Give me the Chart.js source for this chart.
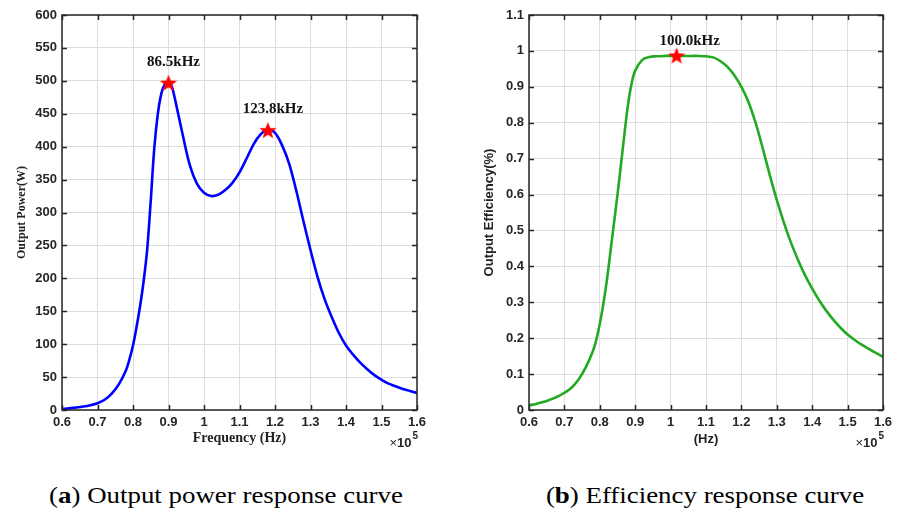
<!DOCTYPE html>
<html>
<head>
<meta charset="utf-8">
<script src="https://cdn.jsdelivr.net/npm/chart.js@4.4.1/dist/chart.umd.min.js"></script>
<style>
  body { margin: 0; background: #fff; width: 898px; height: 514px; position: relative; overflow: hidden; }
  .panel { position: absolute; top: 0; width: 449px; height: 460px; }
  .caption { position: absolute; top: 482px; font-family: 'Liberation Serif', serif; font-size: 24px; color: #000;
             white-space: nowrap; transform: translateX(-50%) scaleX(1.12); }
</style>
</head>
<body>
<div class="panel" style="left:0"><canvas id="powerChart" width="449" height="460"></canvas></div>
<div class="panel" style="left:449px"><canvas id="effChart" width="449" height="460"></canvas></div>
<div class="caption" style="left:226px">(<b>a</b>) Output power response curve</div>
<div class="caption" style="left:705px">(<b>b</b>) Efficiency response curve</div>
<script>
// frequency in units of 1e5 Hz
const powerFreq = [0.60, 0.62, 0.64, 0.66, 0.68, 0.70, 0.72, 0.74, 0.76, 0.78, 0.79, 0.80, 0.81, 0.82,
    0.83, 0.84, 0.85, 0.86, 0.87, 0.88, 0.89, 0.90, 0.91,
    0.92, 0.94, 0.96, 0.98, 1.00, 1.02, 1.04, 1.06, 1.08, 1.10, 1.12, 1.14, 1.16, 1.18, 1.20,
    1.22, 1.24, 1.26, 1.28, 1.30, 1.32, 1.34, 1.36, 1.38, 1.40, 1.42, 1.44, 1.46, 1.48, 1.50,
    1.52, 1.54, 1.56, 1.58, 1.60];
const powerW = [1.5, 2.5, 3.7, 5.2, 7.3, 10.3, 15.5, 25, 39, 60, 77, 98, 126, 158,
    196, 244, 318, 398, 450, 481, 495, 498, 490,
    468, 418, 372, 344, 330, 325, 327, 334, 345, 361, 382, 404, 419, 426, 421,
    402, 374, 333, 287, 243, 202, 168, 141, 117, 98, 84, 72, 62, 53, 46,
    40, 36, 32, 29, 26];

const effFreq = [0.60, 0.62, 0.64, 0.66, 0.68, 0.70, 0.72, 0.74, 0.76, 0.78, 0.79,
    0.80, 0.81, 0.82, 0.83, 0.84, 0.85, 0.86, 0.87, 0.88, 0.89, 0.90, 0.92, 0.94, 0.96, 0.98,
    1.00, 1.02, 1.04, 1.06, 1.08, 1.10, 1.12, 1.14, 1.16, 1.18,
    1.20, 1.22, 1.24, 1.26, 1.28, 1.30, 1.32, 1.34, 1.36, 1.38,
    1.40, 1.42, 1.44, 1.46, 1.48, 1.50, 1.52, 1.54, 1.56, 1.58, 1.60];
const effVal = [0.013, 0.017, 0.022, 0.029, 0.037, 0.048, 0.062, 0.085, 0.118, 0.163, 0.195,
    0.24, 0.295, 0.362, 0.44, 0.52, 0.60, 0.685, 0.772, 0.852, 0.91, 0.945, 0.975, 0.983, 0.985, 0.986,
    0.986, 0.986, 0.986, 0.986, 0.986, 0.985, 0.982, 0.972, 0.956, 0.932,
    0.90, 0.858, 0.80, 0.73, 0.655, 0.585, 0.522, 0.466, 0.418, 0.375,
    0.338, 0.305, 0.276, 0.251, 0.229, 0.21, 0.195, 0.182, 0.17, 0.159, 0.148];

// marked peaks
const powerPeakF = [0.90, 1.18];
const powerPeakW = [497, 425];
const powerPeakText = ['86.5kHz', '123.8kHz'];
const effPeakF = [1.017];
const effPeakVal = [0.987];
const effPeakText = ['100.0kHz'];

// tick values
const xTickVals = [0.6, 0.7, 0.8, 0.9, 1.0, 1.1, 1.2, 1.3, 1.4, 1.5, 1.6];
const powerTickVals = [0, 50, 100, 150, 200, 250, 300, 350, 400, 450, 500, 550, 600];
const effTickVals = [0, 0.1, 0.2, 0.3, 0.4, 0.5, 0.6, 0.7, 0.8, 0.9, 1.0, 1.1];

const axisColor = '#262626';
const gridColor = '#dedede';
const tickFont = { family: 'Liberation Sans', weight: 'bold', size: 13 };

function makeStar(r) {
    const c = document.createElement('canvas');
    c.width = c.height = Math.ceil(r * 2 + 2);
    const g = c.getContext('2d');
    const cx = c.width / 2, cy = c.height / 2 + 0.8;
    g.beginPath();
    for (let i = 0; i < 10; i++) {
        const rr = i % 2 ? r * 0.42 : r;
        const ang = -Math.PI / 2 + i * Math.PI / 5;
        g.lineTo(cx + rr * Math.cos(ang), cy + rr * Math.sin(ang));
    }
    g.closePath();
    g.fillStyle = '#ff0000';
    g.fill();
    return c;
}
const starImg = makeStar(9);

const fmt = v => String(+v.toFixed(2));

// box, inward ticks, peak labels and the x10^5 exponent (MATLAB look)
const matlabFrame = {
    id: 'matlabFrame',
    afterDraw(chart, args, opts) {
        const { ctx, chartArea: a, scales: { x, y } } = chart;
        ctx.save();
        ctx.strokeStyle = axisColor;
        ctx.lineWidth = 1.5;
        ctx.beginPath();
        x.ticks.forEach(t => {
            const px = Math.round(x.getPixelForValue(t.value)) + 0.5;
            ctx.moveTo(px, a.bottom); ctx.lineTo(px, a.bottom - 5);
            ctx.moveTo(px, a.top); ctx.lineTo(px, a.top + 5);
        });
        y.ticks.forEach(t => {
            const py = Math.round(y.getPixelForValue(t.value)) + 0.5;
            ctx.moveTo(a.left, py); ctx.lineTo(a.left + 5, py);
            ctx.moveTo(a.right, py); ctx.lineTo(a.right - 5, py);
        });
        ctx.stroke();
        ctx.strokeRect(a.left, a.top, a.right - a.left, a.bottom - a.top);

        // peak labels
        ctx.fillStyle = '#111';
        ctx.font = 'bold 15px "Liberation Serif"';
        ctx.textAlign = 'center';
        ctx.textBaseline = 'middle';
        opts.peakF.forEach((f, i) => {
            ctx.fillText(opts.peakText[i], x.getPixelForValue(f) + opts.dx,
                y.getPixelForValue(opts.peakV[i]) - opts.dy);
        });

        // x10^5
        ctx.fillStyle = axisColor;
        ctx.textAlign = 'right';
        ctx.textBaseline = 'alphabetic';
        ctx.font = 'bold 10px "Liberation Sans"';
        ctx.fillText('5', a.right + 1, 439);
        let xr = a.right + 1 - ctx.measureText('5').width - 1;
        ctx.font = 'bold 13px "Liberation Sans"';
        ctx.fillText('10', xr, 447);
        xr -= ctx.measureText('10').width;
        ctx.font = '13px "Liberation Sans"';
        ctx.fillText('\u00d7', xr, 447);
        ctx.restore();
    }
};

function makeChart(id, cfg) {
    return new Chart(document.getElementById(id), {
        type: 'line',
        data: {
            datasets: [{
                data: cfg.peakF.map((f, i) => ({ x: f, y: cfg.peakV[i] })),
                showLine: false,
                pointStyle: starImg,
                pointRadius: 9,
                order: 0
            }, {
                data: cfg.freq.map((f, i) => ({ x: f, y: cfg.vals[i] })),
                borderColor: cfg.color,
                borderWidth: 2.6,
                pointRadius: 0,
                tension: 0.35,
                fill: false,
                order: 1
            }]
        },
        options: {
            responsive: false,
            animation: false,
            devicePixelRatio: 1,
            layout: { padding: { top: 15, right: cfg.padRight, bottom: 0, left: 0 } },
            plugins: {
                legend: { display: false },
                tooltip: { enabled: false },
                matlabFrame: { peakF: cfg.peakF, peakV: cfg.peakV, peakText: cfg.peakText, dx: cfg.labelDx, dy: cfg.labelDy }
            },
            scales: {
                x: {
                    type: 'linear',
                    min: 0.6, max: 1.6,
                    afterBuildTicks: s => { s.ticks = xTickVals.map(v => ({ value: v })); },
                    afterFit: s => { s.height = 50; },
                    grid: { color: gridColor, lineWidth: 1, drawTicks: false },
                    border: { display: false },
                    ticks: { font: tickFont, color: axisColor, padding: 5, maxRotation: 0, autoSkip: false, callback: fmt },
                    title: { display: true, text: cfg.xTitle, font: cfg.xTitleFont, color: '#222', padding: { top: 0, bottom: 13 } }
                },
                y: {
                    min: cfg.yTicks[0], max: cfg.yTicks[cfg.yTicks.length - 1],
                    afterBuildTicks: s => { s.ticks = cfg.yTicks.map(v => ({ value: v })); },
                    afterFit: s => { s.width = cfg.yWidth; },
                    grid: { color: gridColor, lineWidth: 1, drawTicks: false },
                    border: { display: false },
                    ticks: { font: tickFont, color: axisColor, padding: 5, autoSkip: false, callback: fmt },
                    title: { display: true, text: cfg.yTitle, font: cfg.yTitleFont, color: '#222', padding: { top: cfg.yTitlePad, bottom: 0 } }
                }
            }
        },
        plugins: [matlabFrame]
    });
}

makeChart('powerChart', {
    freq: powerFreq, vals: powerW, color: '#0000ff',
    peakF: powerPeakF, peakV: powerPeakW, peakText: powerPeakText, labelDx: 5, labelDy: 21,
    yTicks: powerTickVals, yWidth: 62, padRight: 32,
    xTitle: 'Frequency (Hz)', xTitleFont: { family: 'Liberation Serif', weight: 'bold', size: 14 },
    yTitle: 'Output Power(W)', yTitleFont: { family: 'Liberation Serif', weight: 'bold', size: 12 }, yTitlePad: 15
});

makeChart('effChart', {
    freq: effFreq, vals: effVal, color: '#22aa22',
    peakF: effPeakF, peakV: effPeakVal, peakText: effPeakText, labelDx: 13, labelDy: 14,
    yTicks: effTickVals, yWidth: 80, padRight: 15,
    xTitle: '(Hz)', xTitleFont: { family: 'Liberation Sans', weight: 'bold', size: 13 },
    yTitle: 'Output Efficiency(%)', yTitleFont: { family: 'Liberation Sans', weight: 'bold', size: 13 }, yTitlePad: 33
});
</script>
</body>
</html>
